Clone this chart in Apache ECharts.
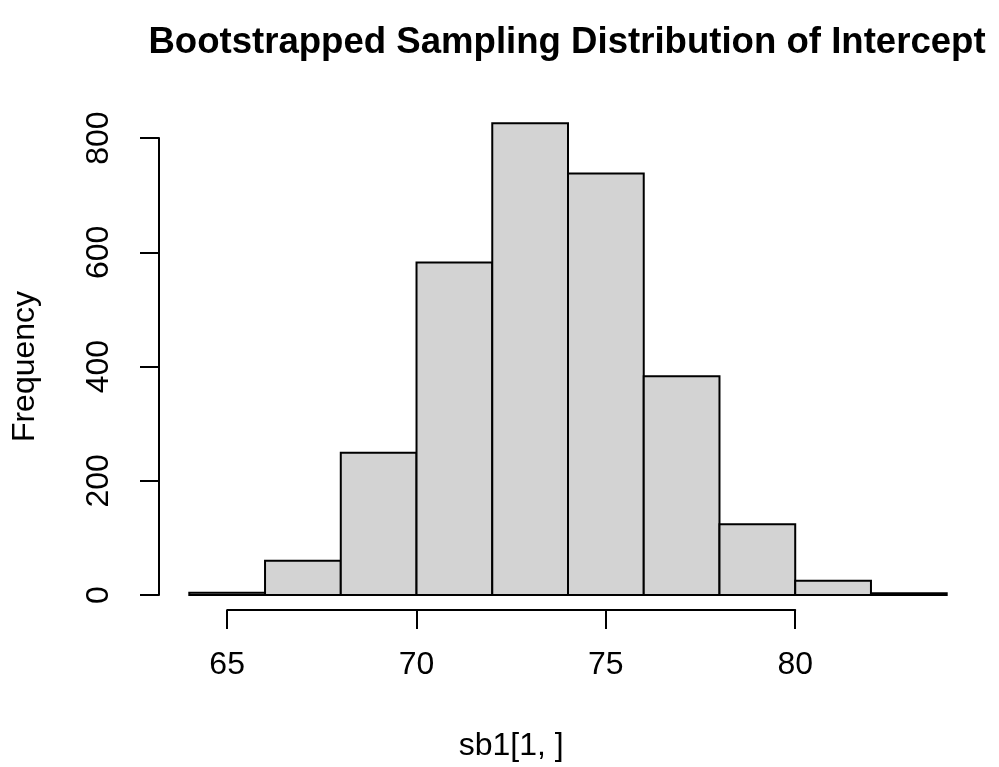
<!DOCTYPE html>
<html>
<head>
<meta charset="utf-8">
<script src="https://cdn.jsdelivr.net/npm/echarts@6/dist/echarts.min.js"></script>
<style>
  html, body { margin: 0; padding: 0; background: #ffffff; }
  #chart { width: 999px; height: 767px; }
</style>
</head>
<body>
<div id="chart"></div>
<script>
// Histogram bins of the bootstrapped intercept estimates
const binEdges = [64, 66, 68, 70, 72, 74, 76, 78, 80, 82, 84];
const counts = [4, 60, 249, 582, 826, 738, 383, 124, 25, 3];
const xTicks = [65, 70, 75, 80];
const yTicks = [0, 200, 400, 600, 800];

const titleText = 'Bootstrapped Sampling Distribution of Intercept';
const xLabel = 'sb1[1, ]';
const yLabel = 'Frequency';

// Plot region (pixels) and data ranges extended by 4% on each side
const FONT = '"Liberation Sans", Arial, Helvetica, sans-serif';
const plot = { left: 159, top: 104.3, width: 818, height: 509.6 };
const xSpan = binEdges[binEdges.length - 1] - binEdges[0];
const xMin = binEdges[0] - 0.04 * xSpan;
const xMax = binEdges[binEdges.length - 1] + 0.04 * xSpan;
const yTop = Math.max(...counts);
const yMin = -0.04 * yTop;
const yMax = yTop * 1.04;

// Secondary grids hold the R-style axes, whose lines span only the tick range
const pxPerX = plot.width / (xMax - xMin);
const pxPerY = plot.height / (yMax - yMin);
const xAxisGrid = {
  left: plot.left + (xTicks[0] - xMin) * pxPerX,
  width: (xTicks[xTicks.length - 1] - xTicks[0]) * pxPerX,
  top: plot.top,
  height: plot.height
};
const yAxisGrid = {
  left: plot.left,
  width: plot.width,
  top: plot.top + (yMax - yTicks[yTicks.length - 1]) * pxPerY,
  height: (yTicks[yTicks.length - 1] - yTicks[0]) * pxPerY
};

const bins = counts.map((c, i) => [binEdges[i], binEdges[i + 1], c]);

const LW = 2;
const axisStyle = {
  axisLine: { show: true, onZero: false, lineStyle: { color: '#000', width: LW } },
  axisTick: { show: true, inside: false, length: 19, lineStyle: { color: '#000', width: LW } },
  splitLine: { show: false }
};

const chart = echarts.init(document.getElementById('chart'), null, { renderer: 'canvas' });
chart.setOption({
  backgroundColor: '#ffffff',
  animation: false,
  title: {
    text: titleText,
    left: plot.left + plot.width / 2 - 6,
    textAlign: 'center',
    top: 19,
    textStyle: { fontFamily: FONT, fontSize: 36.6, fontWeight: 'bold', color: '#000' }
  },
  grid: [
    { left: plot.left, top: plot.top, width: plot.width, height: plot.height },
    xAxisGrid,
    yAxisGrid
  ],
  xAxis: [
    { gridIndex: 0, type: 'value', min: xMin, max: xMax, show: false },
    Object.assign({
      gridIndex: 1, type: 'value', position: 'bottom',
      min: xTicks[0], max: xTicks[xTicks.length - 1], interval: xTicks[1] - xTicks[0],
      axisLabel: { fontFamily: FONT, fontSize: 32, color: '#000', margin: 39 },
      name: xLabel, nameLocation: 'middle', nameGap: 120,
      nameTextStyle: { fontFamily: FONT, fontSize: 32, color: '#000' }
    }, axisStyle),
    { gridIndex: 2, type: 'value', show: false, min: 0, max: 1 }
  ],
  yAxis: [
    { gridIndex: 0, type: 'value', min: yMin, max: yMax, show: false },
    { gridIndex: 1, type: 'value', show: false, min: 0, max: 1 },
    Object.assign({
      gridIndex: 2, type: 'value', position: 'left',
      min: yTicks[0], max: yTicks[yTicks.length - 1], interval: yTicks[1] - yTicks[0],
      axisLabel: { fontFamily: FONT, fontSize: 32, color: '#000', margin: 44, rotate: 90 },
      name: yLabel, nameLocation: 'middle', nameGap: 118, nameRotate: 90,
      nameTextStyle: { fontFamily: FONT, fontSize: 32, color: '#000' }
    }, axisStyle)
  ],
  series: [{
    type: 'custom',
    xAxisIndex: 0,
    yAxisIndex: 0,
    data: bins,
    encode: { x: [0, 1], y: 2 },
    renderItem: function (params, api) {
      const p0 = api.coord([api.value(0), api.value(2)]);
      const p1 = api.coord([api.value(1), 0]);
      return {
        type: 'rect',
        shape: { x: p0[0], y: p0[1], width: p1[0] - p0[0], height: p1[1] - p0[1] },
        style: { fill: '#d3d3d3', stroke: '#000', lineWidth: LW }
      };
    }
  }]
});
</script>
</body>
</html>
